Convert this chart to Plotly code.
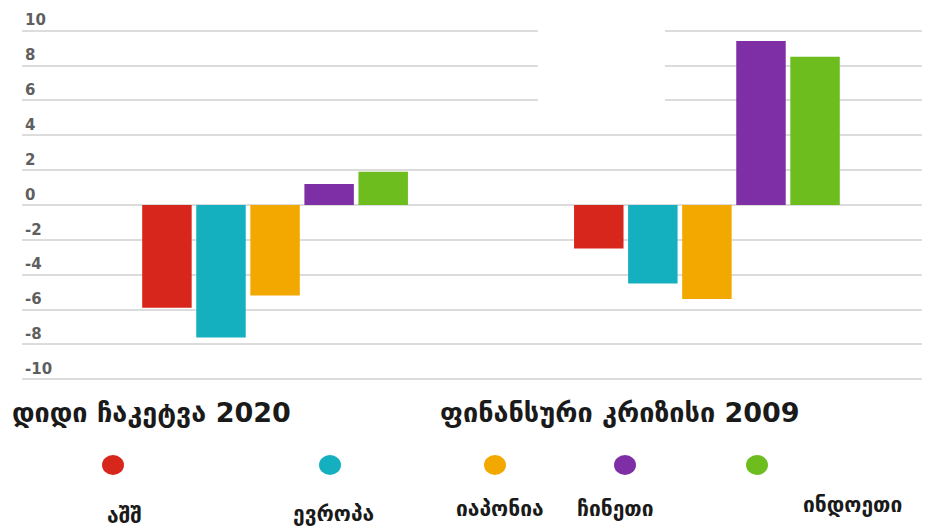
import plotly.graph_objects as go

categories = ["დიდი ჩაკეტვა 2020", "ფინანსური კრიზისი 2009"]
series_names = ["აშშ", "ევროპა", "იაპონია", "ჩინეთი", "ინდოეთი"]
usa = [-5.9, -2.5]
europe = [-7.6, -4.5]
japan = [-5.2, -5.4]
china = [1.2, 9.4]
india = [1.9, 8.5]
tick_values = [-10, -8, -6, -4, -2, 0, 2, 4, 6, 8, 10]
tick_labels = ["-10", "-8", "-6", "-4", "-2", "0", "2", "4", "6", "8", "10"]

colors = ["#d7261b", "#14b0bf", "#f3a800", "#7f2fa6", "#6dbd1f"]
values = [usa, europe, japan, china, india]

# the page body has an 8px margin, so the figure is drawn at (8, 8)
OFF = 8
W, H = 930 - OFF, 529 - OFF
ML, MR, MT, MB = 14, 5, 0, 141
PW, PH = W - ML - MR, H - MT - MB

def px(x):  # reference-screen pixel -> paper x
    return (x - OFF - ML) / PW

def py(y):  # reference-screen pixel -> paper y
    return 1 - (y - OFF - MT) / PH

fig = go.Figure()
for name, vals, col in zip(series_names, values, colors):
    fig.add_trace(go.Bar(x=[0, 1], y=vals, name=name, marker_color=col,
                         marker_line_width=0, showlegend=False))

fig.update_layout(
    width=W, height=H,
    margin=dict(l=ML, r=MR, t=MT, b=MB),
    paper_bgcolor="white", plot_bgcolor="white",
    barmode="group", bargap=0.374, bargroupgap=0.085,
    font=dict(family="DejaVu Sans", color="#222"),
    xaxis=dict(range=[-0.586, 1.505], showticklabels=False, showgrid=False,
               zeroline=False, showline=False, ticks=""),
    yaxis=dict(range=[-10.5, 11.3], tickvals=tick_values, ticktext=tick_labels,
               ticklabelposition="inside top", showgrid=True,
               gridcolor="#dcdcdc", gridwidth=1.5, zeroline=True,
               zerolinecolor="#dcdcdc", zerolinewidth=1.5, showline=False,
               tickfont=dict(family="DejaVu Sans", size=15, color="#5f5f5f",
                             weight="bold"),
               ticks=""),
)

# white gap in the upper gridlines (as in the reference)
fig.add_shape(type="rect", xref="paper", yref="y", x0=px(538), x1=px(665),
              y0=5.2, y1=10.6, fillcolor="white", line_width=0, layer="above")

# category labels
cat_x = [10, 438]
for txt, x in zip(categories, cat_x):
    fig.add_annotation(text=txt, xref="paper", yref="paper", x=px(x), y=py(412),
                       xanchor="left", yanchor="middle", showarrow=False,
                       font=dict(size=27, color="#1a1a1a", weight="bold"))

# custom legend: dots and labels below
dot_x = [113, 330, 495, 625, 757]
dot_y = 465
lab_x = [124, 333, 500, 615, 852]
lab_y = [516, 514, 509, 509, 505]
for i, (name, col) in enumerate(zip(series_names, colors)):
    fig.add_shape(type="circle", xref="paper", yref="paper",
                  x0=px(dot_x[i] - 11), x1=px(dot_x[i] + 11),
                  y0=py(dot_y + 10), y1=py(dot_y - 10),
                  fillcolor=col, line_width=0)
    fig.add_annotation(text=name, xref="paper", yref="paper",
                       x=px(lab_x[i]), y=py(lab_y[i]), xanchor="center",
                       yanchor="middle", showarrow=False,
                       font=dict(size=21, color="#1a1a1a", weight="bold"))

fig.write_html("out.html")
